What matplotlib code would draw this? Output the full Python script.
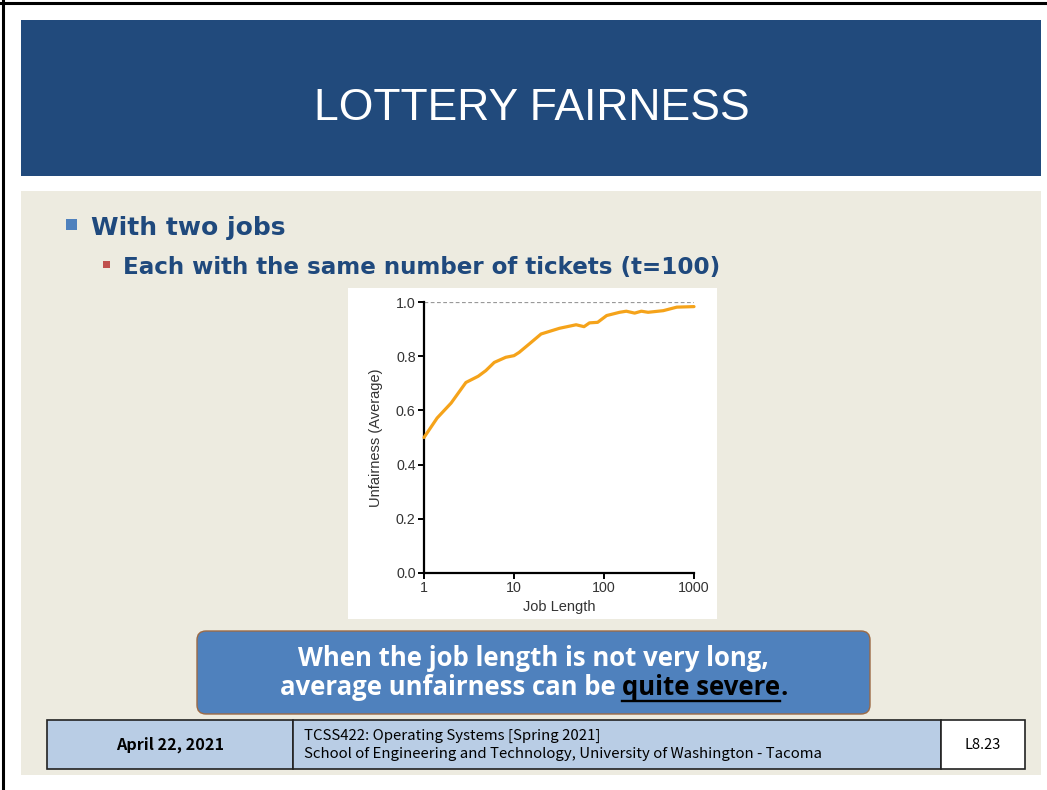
import matplotlib
matplotlib.use("Agg")
import matplotlib.pyplot as plt
from matplotlib.patches import Rectangle, FancyBboxPatch
from matplotlib.lines import Line2D

# ---------------- data ----------------
job_length = [1, 1.4, 2, 2.92, 4, 4.87, 6.03, 8.1, 10, 11.4, 15, 20, 32, 49, 60, 69,
              85, 107, 149, 177, 219, 260, 309, 455, 644, 1000]
unfairness = [0.50, 0.572, 0.627, 0.703, 0.726, 0.747, 0.777, 0.796, 0.802, 0.814,
              0.847, 0.882, 0.903, 0.916, 0.909, 0.923, 0.925, 0.950, 0.962, 0.966,
              0.959, 0.966, 0.962, 0.968, 0.981, 0.983]
y_ticks = [0.0, 0.2, 0.4, 0.6, 0.8, 1.0]
x_ticks = [1, 10, 100, 1000]
x_tick_labels = ["1", "10", "100", "1000"]

title = "LOTTERY FAIRNESS"
bullet1 = "With two jobs"
bullet2 = "Each with the same number of tickets (t=100)"
callout1 = "When the job length is not very long,"
callout2a = "average unfairness can be "
callout2b = "quite severe"
callout2c = "."
footer_date = "April 22, 2021"
footer_course = "TCSS422: Operating Systems [Spring 2021]"
footer_school = "School of Engineering and Technology, University of Washington - Tacoma"
footer_page = "L8.23"

W, H = 1047, 790
fig = plt.figure(figsize=(W / 100, H / 100), dpi=100)
fig.patch.set_facecolor("white")

bg = fig.add_axes([0, 0, 1, 1])
bg.set_xlim(0, W)
bg.set_ylim(H, 0)
bg.axis("off")

# outer border (top + left)
bg.add_line(Line2D([0, W], [3, 3], color="black", lw=2.2))
bg.add_line(Line2D([3, 3], [0, H], color="black", lw=2.2))

# header band
bg.add_patch(Rectangle((21, 20), 1020, 156, facecolor="#214A7C", edgecolor="none"))
bg.text(532, 108, title, color="white", fontsize=32, ha="center", va="center",
        family=["Liberation Sans", "DejaVu Sans"])

# content area
bg.add_patch(Rectangle((21, 191), 1020, 584, facecolor="#EDEBE0", edgecolor="none"))

# bullets
bg.add_patch(Rectangle((66, 219), 11, 11, facecolor="#4F81BD", edgecolor="none"))
bg.text(91, 235, bullet1, color="#1F497D", fontsize=18, fontweight="bold",
        ha="left", va="baseline", family=["DejaVu Sans"])
bg.add_patch(Rectangle((103, 261), 7, 7, facecolor="#C0504D", edgecolor="none"))
bg.text(123, 274, bullet2, color="#1F497D", fontsize=16.6, fontweight="bold",
        ha="left", va="baseline", family=["DejaVu Sans"])

# chart image background
bg.add_patch(Rectangle((348, 288), 369, 331, facecolor="white", edgecolor="none"))

# chart axes
ax_l, ax_r, ax_t, ax_b = 424, 694, 302, 573
ax = fig.add_axes([ax_l / W, 1 - ax_b / H, (ax_r - ax_l) / W, (ax_b - ax_t) / H])
ax.set_facecolor("white")
ax.set_xscale("log")
ax.set_xlim(1, 1000)
ax.set_ylim(0, 1.0)
ax.axhline(1.0, color="#999999", lw=0.9, ls=(0, (3, 2)), zorder=1)
ax.plot(job_length, unfairness, color="#F5A31A", lw=2.3, solid_capstyle="round",
        zorder=3, clip_on=False)
for s in ["top", "right"]:
    ax.spines[s].set_visible(False)
for s in ["left", "bottom"]:
    ax.spines[s].set_linewidth(1.6)
    ax.spines[s].set_color("black")
ax.set_yticks(y_ticks)
ax.set_yticklabels([f"{v:.1f}" for v in y_ticks])
ax.set_xticks(x_ticks)
ax.set_xticklabels(x_tick_labels)
ax.xaxis.set_minor_locator(matplotlib.ticker.NullLocator())
ax.tick_params(axis="both", which="major", direction="out", length=4, width=1.4,
               labelsize=10.3, labelcolor="#333333", pad=2,
               labelfontfamily="Liberation Sans")
ax.set_xlabel("Job Length", fontsize=10.5, color="#333333", labelpad=3,
              family="Liberation Sans")
ax.set_ylabel("Unfairness (Average)", fontsize=10.5, color="#333333", labelpad=9,
              family="Liberation Sans")

# callout box
bg.add_patch(FancyBboxPatch((197, 631), 673, 83,
                            boxstyle="round,pad=0,rounding_size=9",
                            facecolor="#4F81BD", edgecolor="#9C6A45", lw=1.0))
cfam = ["Open Sans", "DejaVu Sans"]
cfs = 18.5
bg.text(533.5, 666, callout1, color="white", fontsize=cfs, fontweight="bold",
        ha="center", va="baseline", family=cfam)

renderer = fig.canvas.get_renderer()
ta = bg.text(0, 695, callout2a, color="white", fontsize=cfs, fontweight="bold",
             ha="left", va="baseline", family=cfam)
tb = bg.text(0, 695, callout2b, color="black", fontsize=cfs, fontweight="bold",
             ha="left", va="baseline", family=cfam)
tc = bg.text(0, 695, callout2c, color="black", fontsize=cfs, fontweight="bold",
             ha="left", va="baseline", family=cfam)
wa = ta.get_window_extent(renderer).width
wb = tb.get_window_extent(renderer).width
wc = tc.get_window_extent(renderer).width
total = wa + wb + wc
x0 = 533.5 - total / 2
ta.set_x(x0)
tb.set_x(x0 + wa)
tc.set_x(x0 + wa + wb)
bg.add_line(Line2D([x0 + wa, x0 + wa + wb], [700.5, 700.5], color="black", lw=1.7))

# footer table
ffam = ["Noto Sans CJK KR", "DejaVu Sans"]
bg.add_patch(Rectangle((47, 720), 246, 49, facecolor="#B9CDE5", edgecolor="#222222", lw=1.2))
bg.add_patch(Rectangle((293, 720), 648, 49, facecolor="#B9CDE5", edgecolor="#222222", lw=1.2))
bg.add_patch(Rectangle((941, 720), 84, 49, facecolor="white", edgecolor="#222222", lw=1.2))
bg.text(170, 745, footer_date, fontsize=11.6, fontweight="bold", color="black",
        ha="center", va="center", family=ffam)
bg.text(304, 740, footer_course, fontsize=10.8, color="black", ha="left",
        va="baseline", family=ffam)
bg.text(304, 758, footer_school, fontsize=10.8, color="black", ha="left",
        va="baseline", family=ffam)
bg.text(983, 745, footer_page, fontsize=10.5, color="black", ha="center",
        va="center", family=ffam)

fig.savefig("out.png", dpi=100, facecolor="white")
